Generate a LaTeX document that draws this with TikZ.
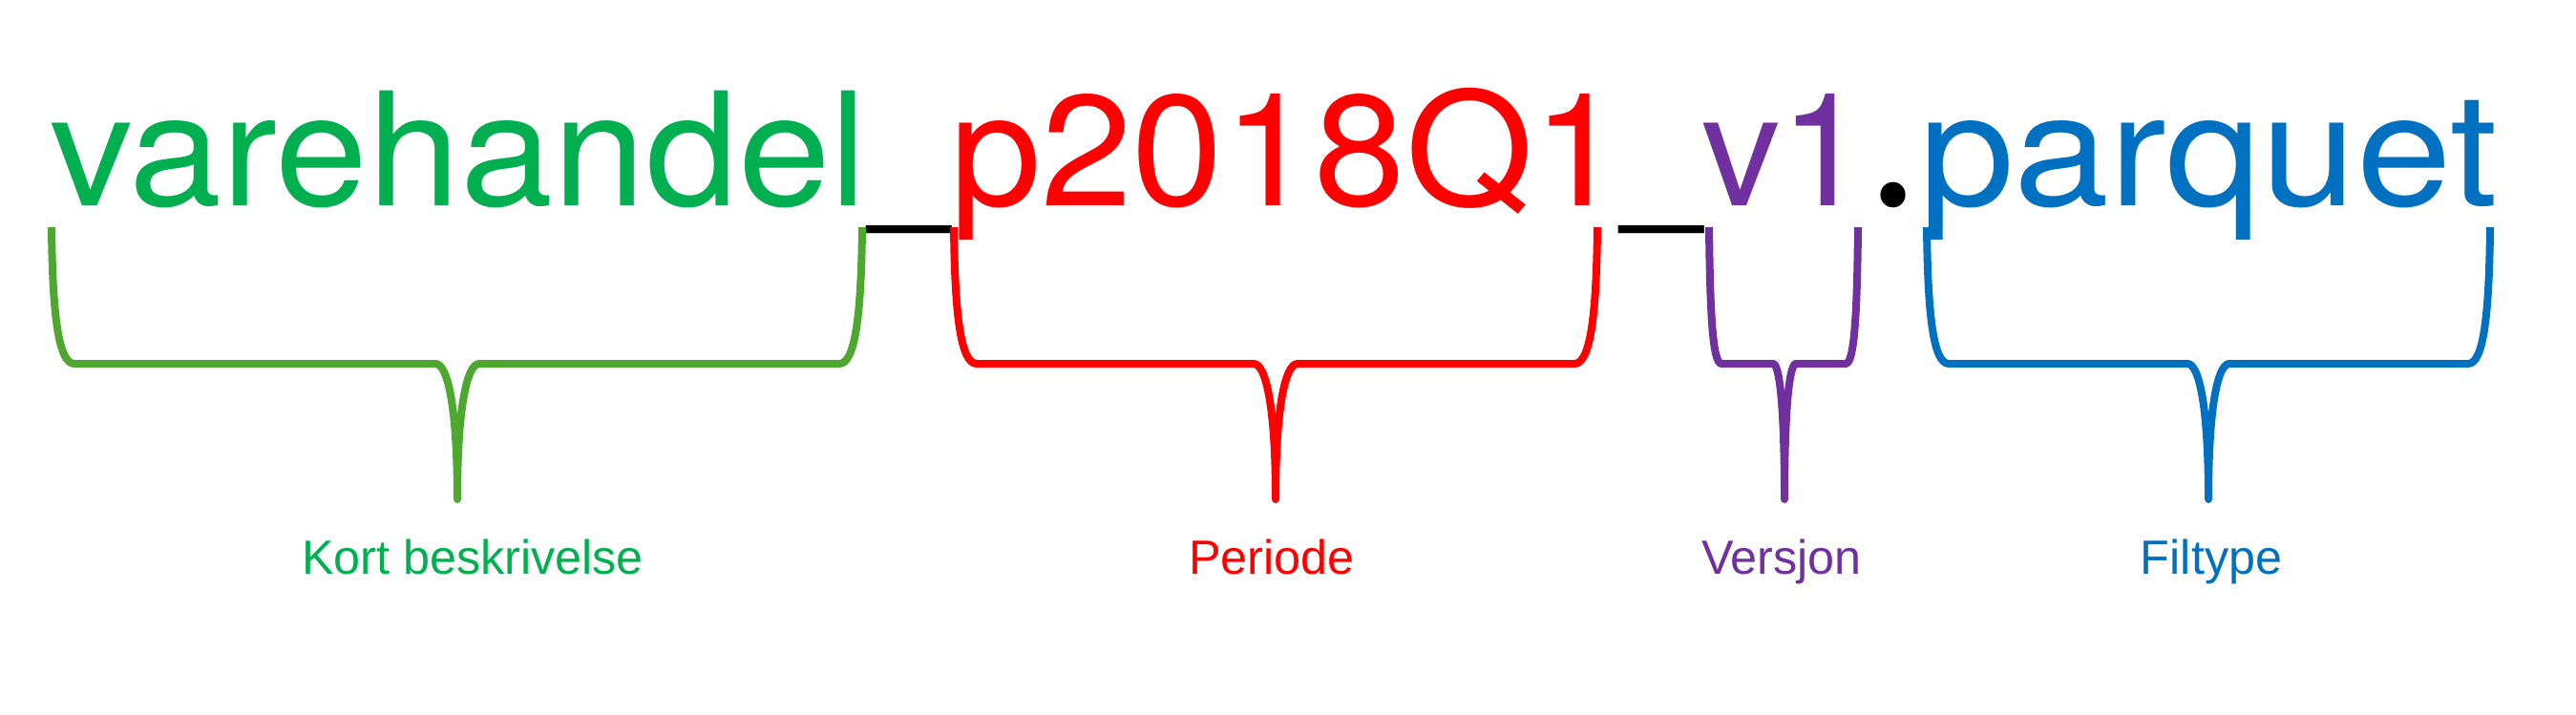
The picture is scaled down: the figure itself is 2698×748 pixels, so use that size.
\documentclass[tikz,border=0pt]{standalone}
\usepackage{fontspec}
\setmainfont{Liberation Sans}
\newfontfamily\bigfont{TeX Gyre Heros}
\newfontfamily\dotfont{Poppins}
\definecolor{txtgreen}{HTML}{00B050}
\definecolor{brgreen}{HTML}{4EA72E}
\definecolor{myred}{HTML}{FF0000}
\definecolor{mypurple}{HTML}{7030A0}
\definecolor{myblue}{HTML}{0070C0}
\newcommand\drawbrace[6]{%
  \draw[brace,#1] (#2,238) .. controls ({#2+1},330) and ({#2+0.3*#5},381) .. ({#2+#5},381)
    -- ({#4-#6},381) .. controls ({#4-0.45*#6},381) and (#4,425) .. (#4,523)
    .. controls (#4,425) and ({#4+0.45*#6},381) .. ({#4+#6},381)
    -- ({#3-#5},381) .. controls ({#3-0.3*#5},381) and ({#3-1},330) .. (#3,238);}
\begin{document}
\begin{tikzpicture}[x=0.01cm,y=-0.01cm,
  seg/.style={anchor=base west, inner sep=0pt, outer sep=0pt, font=\bigfont\fontsize{46.95}{50}\selectfont},
  sym/.style={anchor=base, inner sep=0pt, outer sep=0pt, font=\bigfont\fontsize{46.95}{50}\selectfont},
  lbl/.style={anchor=base, inner sep=0pt, outer sep=0pt, font=\fontsize{14.31}{16}\selectfont},
  brace/.style={line width=0.08cm, line join=round, line cap=butt}]
\useasboundingbox (0,0) rectangle (2698,748);
% file name parts
\node[seg, text=txtgreen] (desc) at (52,215) {\scalebox{1.055}[1]{varehandel}};
\node[sym, text=black] (us1) at (952,215) {\scalebox{0.91}[1]{\_}};
\node[seg, text=myred] (per) at (995,215) {\scalebox{1.04}[1]{p2018Q1}};
\node[sym, text=black] (us2) at (1740.5,215) {\scalebox{0.91}[1]{\_}};
\node[seg, text=mypurple] (ver) at (1782,215) {v1};
\node[sym, text=black, font=\dotfont\fontsize{46.95}{50}\selectfont] (dot) at (1983,216) {\scalebox{1.3}{.}};
\node[seg, text=myblue] (ext) at (2010,215) {\scalebox{1.085}[1]{parquet}};
% braces
\drawbrace{brgreen}{54}{903}{479}{24}{23}
\drawbrace{myred}{999}{1673}{1336}{24}{23}
\drawbrace{mypurple}{1790}{1946}{1869}{13}{12}
\drawbrace{myblue}{2018}{2608}{2313}{23}{22}
% labels
\node[lbl, text=txtgreen] (l1) at (495,601) {Kort beskrivelse};
\node[lbl, text=myred] (l2) at (1332,601) {Periode};
\node[lbl, text=mypurple] (l3) at (1866,601) {Versjon};
\node[lbl, text=myblue] (l4) at (2316,601) {Filtype};
\end{tikzpicture}
\end{document}
